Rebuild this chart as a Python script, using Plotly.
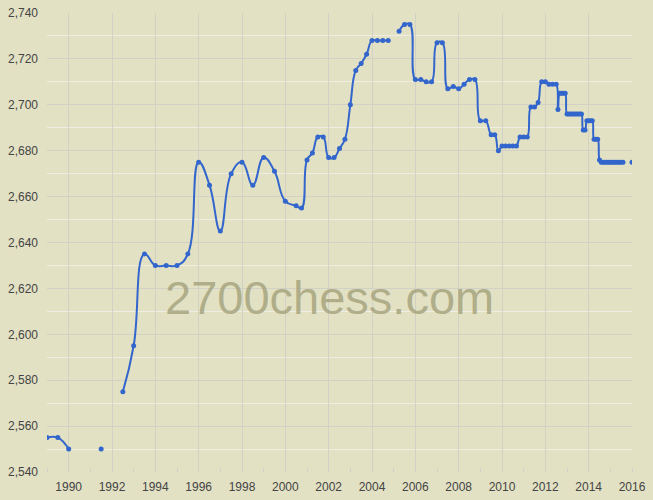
import plotly.graph_objects as go

# Rating-list dates (YYYY-MM) and ratings; None marks a gap in the line
dates_early = ["1989-01", "1989-07", "1990-01", "1990-07", "1991-07", "1992-01",
               "1992-07", "1993-01", "1993-07", "1994-01", "1994-07", "1995-01",
               "1995-07", "1996-01", "1996-07", "1997-01", "1997-07", "1998-01",
               "1998-07", "1999-01", "1999-07", "2000-01", "2000-07", "2000-10"]
ratings_early = [2555, 2555, 2550, None, 2550, None,
                 2575, 2595, 2635, 2630, 2630, 2630,
                 2635, 2675, 2665, 2645, 2670, 2675,
                 2665, 2677, 2671, 2658, 2656, 2655]

dates_mid = ["2001-01", "2001-04", "2001-07", "2001-10", "2002-01", "2002-04",
             "2002-07", "2002-10", "2003-01", "2003-04", "2003-07", "2003-10",
             "2004-01", "2004-04", "2004-07", "2004-10", "2005-01", "2005-04",
             "2005-07", "2005-10", "2006-01", "2006-04", "2006-07", "2006-10",
             "2007-01", "2007-04", "2007-07", "2007-10", "2008-01", "2008-04",
             "2008-07", "2008-10"]
ratings_mid = [2676, 2679, 2686, 2686, 2677, 2677,
               2681, 2685, 2700, 2715, 2718, 2722,
               2728, 2728, 2728, 2728, None, 2732,
               2735, 2735, 2711, 2711, 2710, 2710,
               2727, 2727, 2707, 2708, 2707, 2709,
               2711, 2711]

dates_late = ["2009-01", "2009-04", "2009-07", "2009-09", "2009-11",
              "2010-01", "2010-03", "2010-05", "2010-07", "2010-09", "2010-11",
              "2011-01", "2011-03", "2011-05", "2011-07", "2011-09", "2011-11",
              "2012-01", "2012-03", "2012-05", "2012-07", "2012-08", "2012-09",
              "2012-10", "2012-11", "2012-12",
              "2013-01", "2013-02", "2013-03", "2013-04", "2013-05", "2013-06",
              "2013-07", "2013-08", "2013-09", "2013-10", "2013-11", "2013-12",
              "2014-01", "2014-02", "2014-03", "2014-04", "2014-05", "2014-06",
              "2014-07", "2014-08", "2014-09", "2014-10", "2014-11", "2014-12",
              "2015-01", "2015-02", "2015-03", "2015-04", "2015-05", "2015-06",
              "2015-07", "2015-08", "2015-09", "2016-01"]
ratings_late = [2693, 2693, 2687, 2687, 2680,
                2682, 2682, 2682, 2682, 2682, 2686,
                2686, 2686, 2699, 2699, 2701, 2710,
                2710, 2709, 2709, 2709, 2698, 2705,
                2705, 2705, 2705,
                2696, 2696, 2696, 2696, 2696, 2696,
                2696, 2696, 2696, 2689, 2689, 2693,
                2693, 2693, 2693, 2685, 2685, 2685,
                2676, 2675, 2675, 2675, 2675, 2675,
                2675, 2675, 2675, 2675, 2675, 2675,
                2675, 2675, None, 2675]

x_tick_years = list(range(1990, 2017, 2))
y_tick_values = list(range(2540, 2741, 20))

dates = dates_early + dates_mid + dates_late
ratings = ratings_early + ratings_mid + ratings_late


def to_year(s):
    y, m = s.split("-")
    return int(y) + (int(m) - 1) / 12.0


xs = [to_year(d) for d in dates]

BG = "#e2e1c4"
GRID = "#d2d1c6"
MINOR = "#efeee4"
BLUE = "#3366cc"

fig = go.Figure()
fig.add_trace(go.Scatter(
    x=xs, y=ratings, mode="lines+markers",
    line=dict(color=BLUE, width=2, shape="spline", smoothing=1.3),
    marker=dict(color=BLUE, size=5),
    connectgaps=False, hoverinfo="x+y", showlegend=False,
))

fig.add_annotation(
    text="2700chess.com", xref="paper", yref="paper", x=0.483, y=0.38,
    xanchor="center", yanchor="middle", showarrow=False,
    font=dict(family="Liberation Sans, Arial, sans-serif", size=47, color="rgba(160,156,118,0.75)"),
)

fig.update_layout(
    width=653, height=500,
    margin=dict(l=47, r=21, t=13, b=28),
    paper_bgcolor=BG, plot_bgcolor=BG,
    font=dict(family="Liberation Sans, Arial, sans-serif", size=12, color="#444444"),
    xaxis=dict(
        range=[1989, 2016], tickvals=x_tick_years, tickformat="d",
        showgrid=True, gridcolor=GRID, gridwidth=1, zeroline=False,
        showline=False, ticks="", ticklabelstandoff=6, automargin=False,
        minor=dict(dtick=1, tick0=1989, ticks="inside", ticklen=4, tickcolor=GRID, showgrid=False),
    ),
    yaxis=dict(
        range=[2540, 2740], tickvals=y_tick_values, tickformat=",d",
        showgrid=True, gridcolor=GRID, gridwidth=1, zeroline=False,
        showline=False, ticks="", ticklabelstandoff=8, automargin=False,
        minor=dict(dtick=10, tick0=2530, showgrid=True, gridcolor=MINOR, gridwidth=1),
    ),
)

fig.write_html(
    "out.html",
    config={"displayModeBar": False},
    post_script="document.body.style.margin='0';document.body.style.background='" + BG + "';",
)
